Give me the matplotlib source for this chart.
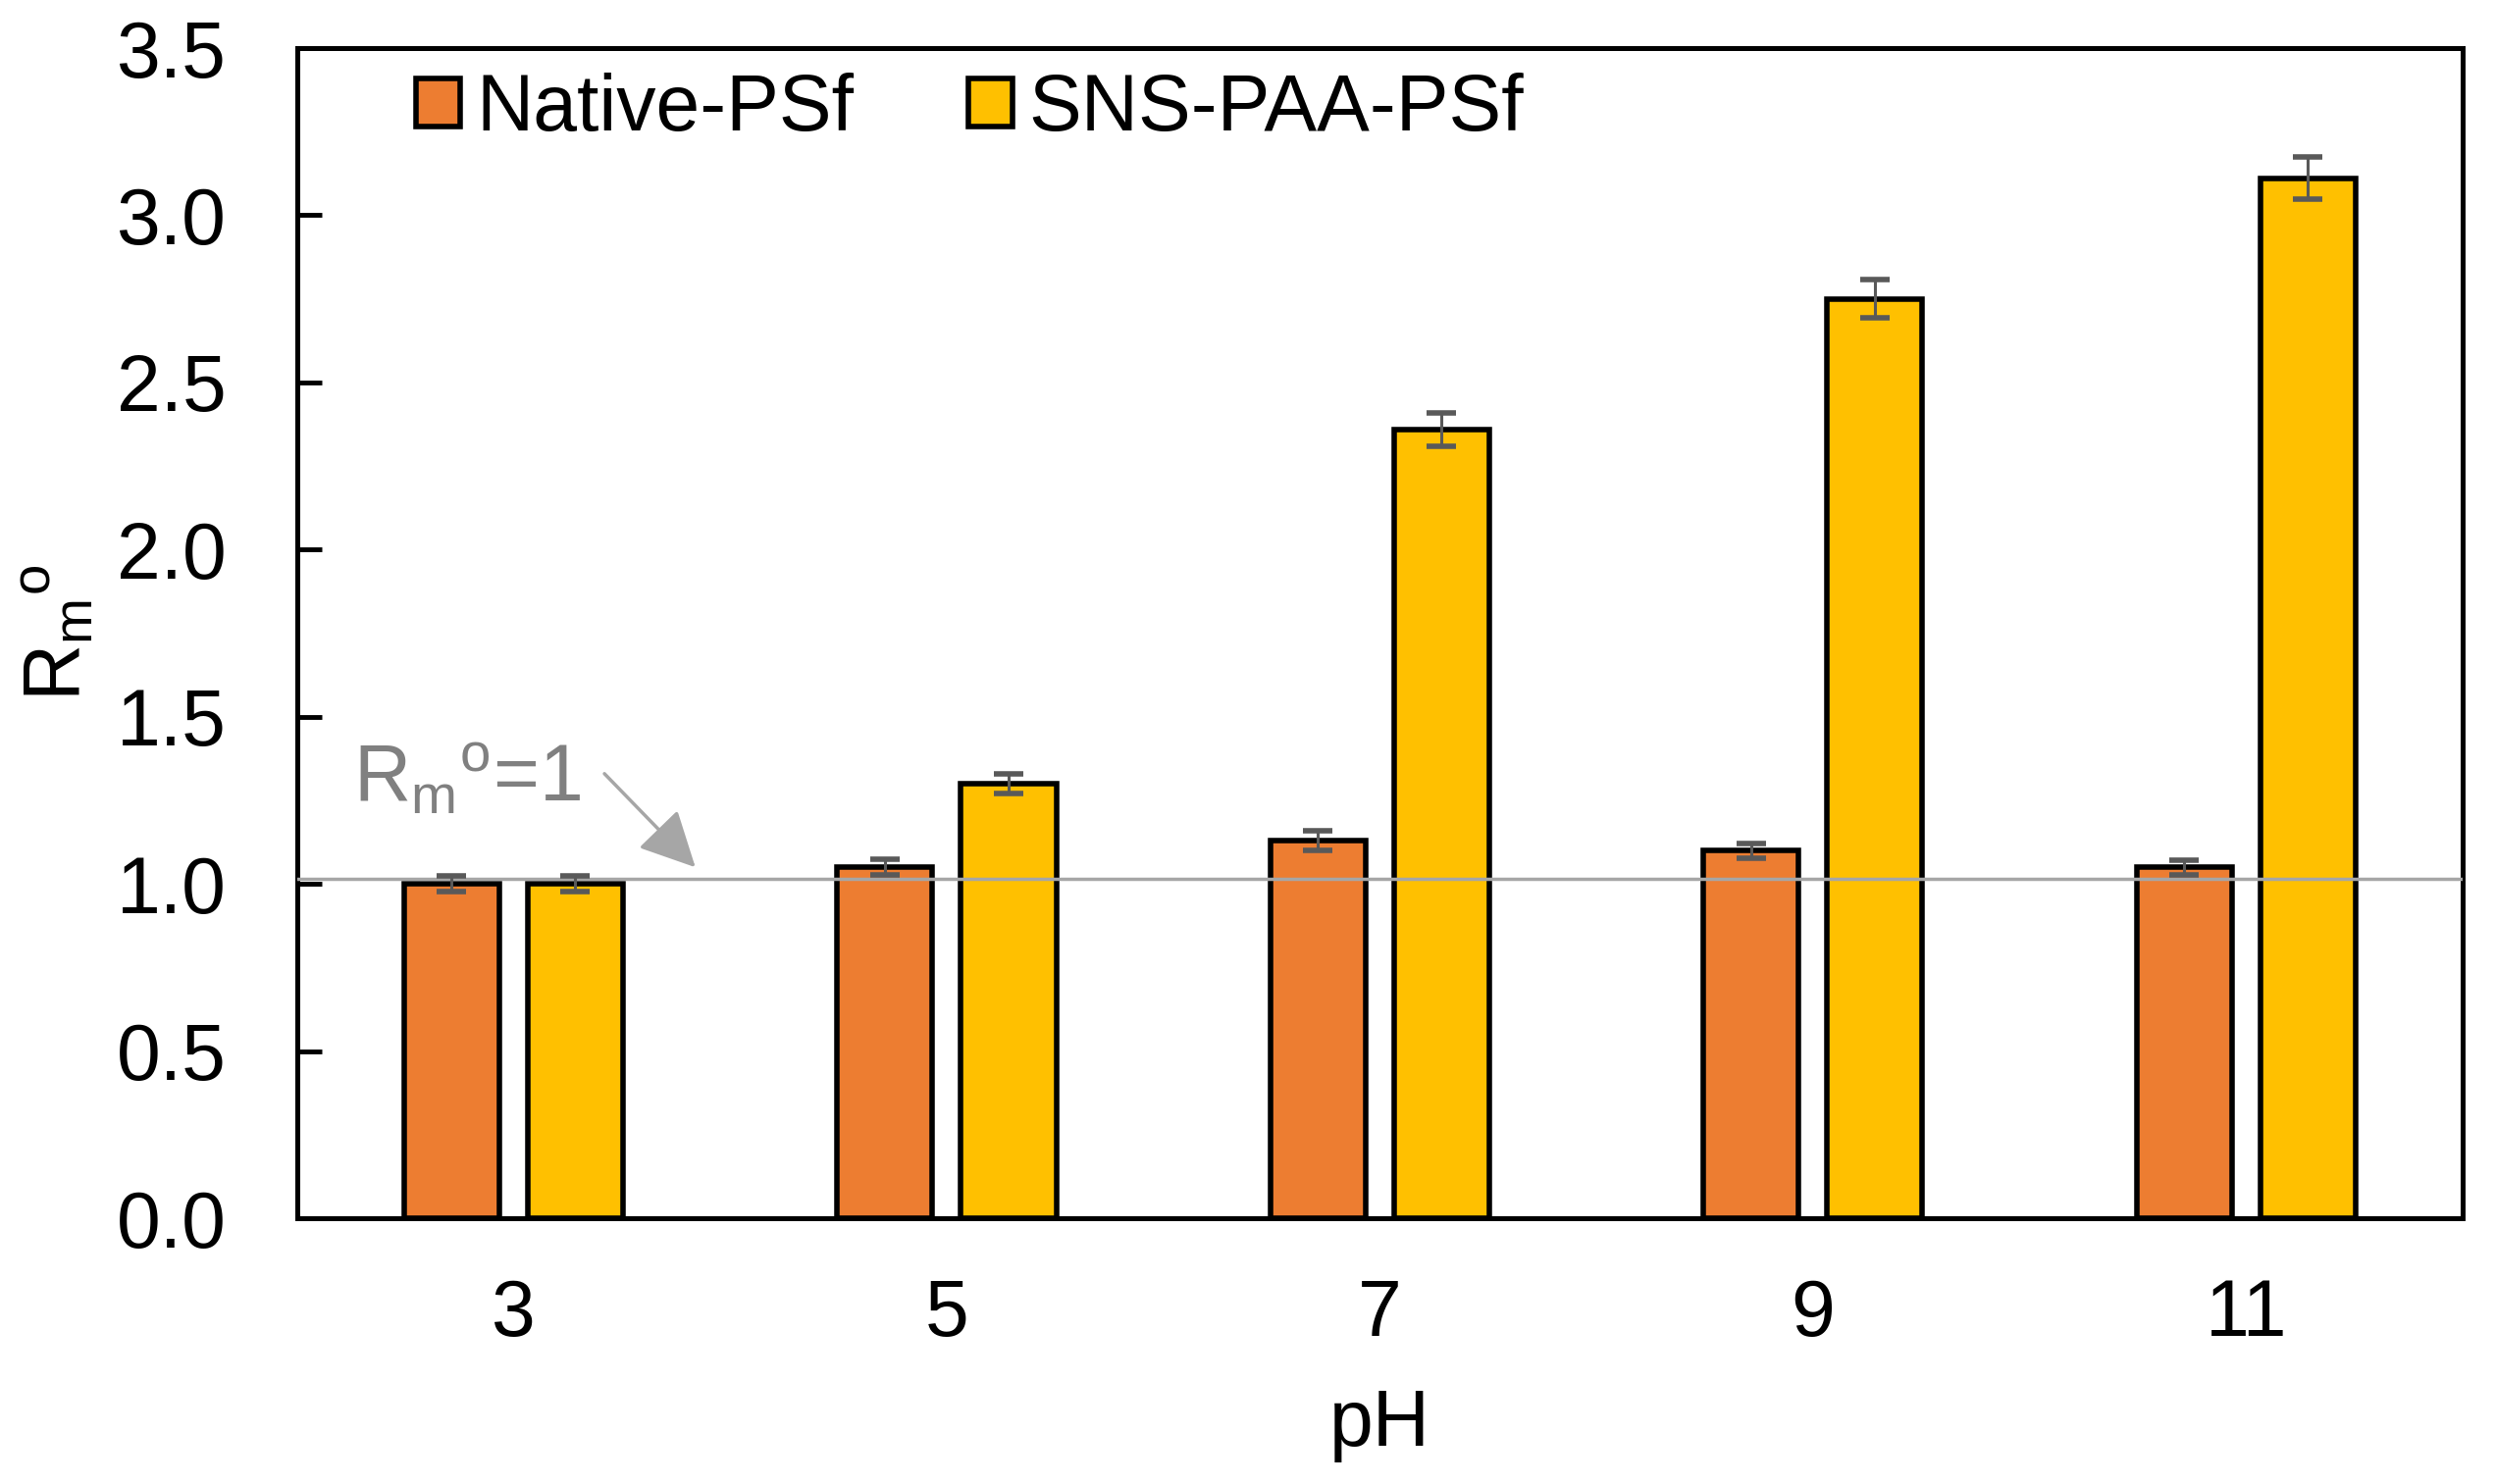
import numpy as np
import matplotlib
matplotlib.use("Agg")
import matplotlib.pyplot as plt

plt.rcParams['font.family'] = ['Liberation Sans', 'DejaVu Sans']
plt.rcParams['mathtext.fontset'] = 'custom'
plt.rcParams['mathtext.rm'] = 'Liberation Sans'
plt.rcParams['mathtext.it'] = 'Liberation Sans'

# datos
ph = ['3', '5', '7', '9', '11']
native = [1.00, 1.05, 1.13, 1.10, 1.05]
native_err = [0.023, 0.024, 0.03, 0.022, 0.022]
sns_paa = [1.00, 1.30, 2.36, 2.75, 3.11]
sns_err = [0.023, 0.03, 0.05, 0.057, 0.063]
ref_value = 1.015

fig = plt.figure(figsize=(25.43, 15.13), dpi=100)
ax = fig.add_axes([0.119, 0.179, 0.868, 0.7886])

x = np.arange(len(ph))
w = 0.22
off = 0.143
ekw = dict(ecolor='#595959', elinewidth=2.2, capsize=11, capthick=4)

ax.bar(x - off, native, w, color='#ED7D31', edgecolor='black', linewidth=4,
       label='Native-PSf', zorder=2)
ax.bar(x + off, sns_paa, w, color='#FFC000', edgecolor='black', linewidth=4,
       label='SNS-PAA-PSf', zorder=2)
ax.errorbar(x - off, native, yerr=native_err, fmt='none', zorder=4, **ekw)
ax.errorbar(x + off, sns_paa, yerr=sns_err, fmt='none', zorder=4, **ekw)

# linea de referencia + flecha
ax.axhline(ref_value, color='#A6A6A6', linewidth=2.5, zorder=3)
ax.text(-0.37, 1.31, 'R$_\\mathregular{m}$$^\\mathregular{o}$=1', color='#808080',
        fontsize=58, va='center', ha='left', zorder=5)
ax.annotate('', xy=(0.42, 1.05), xytext=(0.21, 1.33),
            arrowprops=dict(arrowstyle='-|>,head_length=0.7,head_width=0.35',
                            color='#A6A6A6', lw=2.5, mutation_scale=50,
                            shrinkA=0, shrinkB=0),
            zorder=5)

ax.set_xlim(-0.5, 4.5)
ax.set_ylim(0, 3.5)
ax.set_xticks(x)
ax.set_xticklabels(ph)
ax.set_yticks(np.arange(0, 3.51, 0.5))
ax.set_yticklabels(['%.1f' % v for v in np.arange(0, 3.51, 0.5)])

ax.tick_params(axis='x', length=0, pad=44, labelsize=58)
ax.tick_params(axis='y', direction='in', length=18, width=3.5, pad=52, labelsize=58)
for s in ax.spines.values():
    s.set_linewidth(3.6)

ax.set_xlabel('pH', fontsize=58, labelpad=26)
ax.set_ylabel('R$_\\mathregular{m}$$^\\mathregular{o}$', fontsize=58, labelpad=14)

ax.legend(loc='center left', bbox_to_anchor=(0.055, 0.947), ncol=2, frameon=False,
          fontsize=58, handlelength=0.56, handleheight=0.56, handletextpad=0.2,
          columnspacing=1.45, borderpad=0, borderaxespad=0)

fig.savefig('out.png', dpi=100)
